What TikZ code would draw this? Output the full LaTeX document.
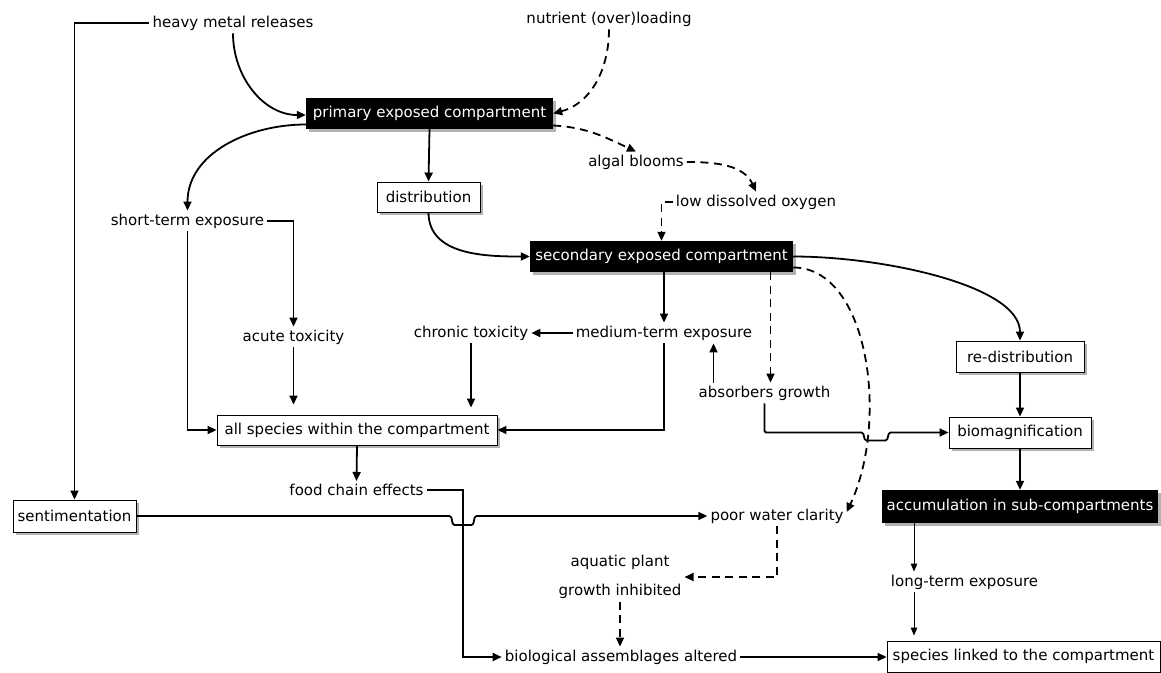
\documentclass[tikz,border=0pt]{standalone}
\usepackage{fontspec}
\setmainfont{DejaVu Sans}
\usetikzlibrary{arrows.meta,shadows,calc}
\begin{document}
\begin{tikzpicture}[x=1pt,y=-1pt,
  every node/.style={font=\fontsize{15}{18}\selectfont},
  txt/.style={inner sep=3pt},
  shad/.style={drop shadow={shadow xshift=2.5pt,shadow yshift=-2.5pt,fill=black!60,opacity=0.5}},
  wbox/.style={shad,draw=black,line width=0.9pt,fill=white,inner sep=2pt,minimum height=31pt},
  bbox/.style={shad,fill=black,text=white,inner sep=2pt,minimum height=31pt},
  con/.style={line width=1.8pt,-{Triangle[length=9pt,width=8pt]}},
  dsh/.style={con,dash pattern=on 8pt off 5.5pt},
  thinarr/.style={line width=1pt,-{Triangle[length=8pt,width=6.5pt]}},
  hop/.style={rounded corners=1.5pt}
]
\useasboundingbox (0,0) rectangle (1161,672);

% nodes
\node[txt] (hml) at (233,23) {heavy metal releases};
\node[txt] (nut) at (609,19) {nutrient (over)loading};
\node[bbox,minimum width=247pt] (prim) at (429.5,113.5) {primary exposed compartment};
\node[txt] (alg) at (636,162) {algal blooms};
\node[wbox,minimum width=103pt,minimum height=30pt] (dist) at (428.5,197) {distribution};
\node[txt] (short) at (187.5,221) {short-term exposure};
\node[txt] (low) at (756,202) {low dissolved oxygen};
\node[bbox,minimum width=263pt] (sec) at (661.5,256.5) {secondary exposed compartment};
\node[txt] (med) at (664,333) {medium-term exposure};
\node[txt] (chron) at (471,333) {chronic toxicity};
\node[txt] (acute) at (293.5,337) {acute toxicity};
\node[wbox,minimum width=128pt] (redist) at (1020,356.5) {re-distribution};
\node[txt] (abs) at (764.5,393) {absorbers growth};
\node[wbox,minimum width=280pt,minimum height=30pt] (all) at (357,430) {all species within the compartment};
\node[wbox,minimum width=142pt] (bio) at (1020,432.5) {biomagnification};
\node[txt] (food) at (356.5,490) {food chain effects};
\node[wbox,minimum width=123pt,minimum height=32pt] (sent) at (74.5,516) {sentimentation};
\node[txt] (poor) at (777,516) {poor water clarity};
\node[bbox,minimum width=276pt,minimum height=33pt] (acc) at (1020,506.5) {accumulation in sub-compartments};
\node[txt,align=center,font=\fontsize{15}{29}\selectfont] (aqua) at (620,577) {aquatic plant\\growth inhibited};
\node[txt] (long) at (964.5,582) {long-term exposure};
\node[txt] (biol) at (621,657) {biological assemblages altered};
\node[wbox,minimum width=273pt] (spec) at (1023.5,656.5) {species linked to the compartment};

% helper coordinates
\coordinate (absT) at ([xshift=6pt]abs.north);
\coordinate (absU) at ([xshift=-51pt]abs.north);
\coordinate (j2) at (876,432.5);
\coordinate (lt) at ([xshift=-50.5pt]long.north);
\coordinate (lb) at ([xshift=-50.5pt]long.south);
\coordinate (fcx) at (463,560);
\coordinate (j1) at (fcx |- sent.east);

% connectors
\draw[con] (hml.west) -| (sent.north);
\draw[con] (hml.south) to[out=-90,in=180] ([yshift=-1.5pt]prim.west);
\draw[dsh] (nut.south) to[out=-90,in=15] (prim.east);
\draw[dsh] ([yshift=-12pt]prim.east) to[out=-3,in=155] (alg.north);
\draw[dsh] (alg.east) to[out=0,in=115] (low.north);
\draw[dsh] (low.west) -| (sec.north);
\draw[con] (prim.south) -- (dist.north);
\draw[con] ([yshift=-11pt]prim.west) to[out=180,in=90] (short.north);
\draw[con] (dist.south) to[out=-90,in=180] (sec.west);
\draw[con] (sec.east) .. controls +(90,0) and +(0,-55) .. (redist.north);
\draw[dsh] (sec.south -| absT) -- (absT);
\draw[dsh] ([yshift=-11pt]sec.east) .. controls +(75,0) and +(43,-92) .. ([yshift=4pt]poor.east);
\draw[con] (sec.south -| med.north) -- (med.north);
\draw[con] (med.west) -- (chron.east);
\draw[con,shorten >=7pt] (chron.south) -- (chron.south |- all.north);
\draw[con] (med.south) |- (all.east);
\draw[con] (absU) -- (absU |- med.south);
\draw[con,hop] (abs.south) |- ([xshift=-13pt]j2) -- ([xshift=-11pt,yshift=-8pt]j2) -- ([xshift=11pt,yshift=-8pt]j2) -- ([xshift=13pt]j2) -- (bio.west);
\draw[con] (redist.south) -- (bio.north);
\draw[con] (bio.south) -- (acc.north);
\draw[thinarr] (acc.south -| lt) -- (lt);
\draw[thinarr,shorten >=5pt] (lb) -- (lb |- spec.north);
\draw[con] (all.south) -- (food.north);
\draw[con] (short.east) -| (acute.north);
\draw[con] (short.south) |- (all.west);
\draw[con,shorten >=10pt] (acute.south) -- (acute.south |- all.north);
\draw[con] (food.east) -| (fcx) |- (biol.west);
\draw[con,hop] (sent.east) -- ([xshift=-12pt]j1) -- ([xshift=-10pt,yshift=-9pt]j1) -- ([xshift=10pt,yshift=-9pt]j1) -- ([xshift=12pt]j1) -- (poor.west);
\draw[dsh] (poor.south) |- (aqua.east);
\draw[dsh] (aqua.south) -- (aqua.south |- biol.north);
\draw[con] (biol.east) -- (biol.east -| spec.west);
\end{tikzpicture}
\end{document}
